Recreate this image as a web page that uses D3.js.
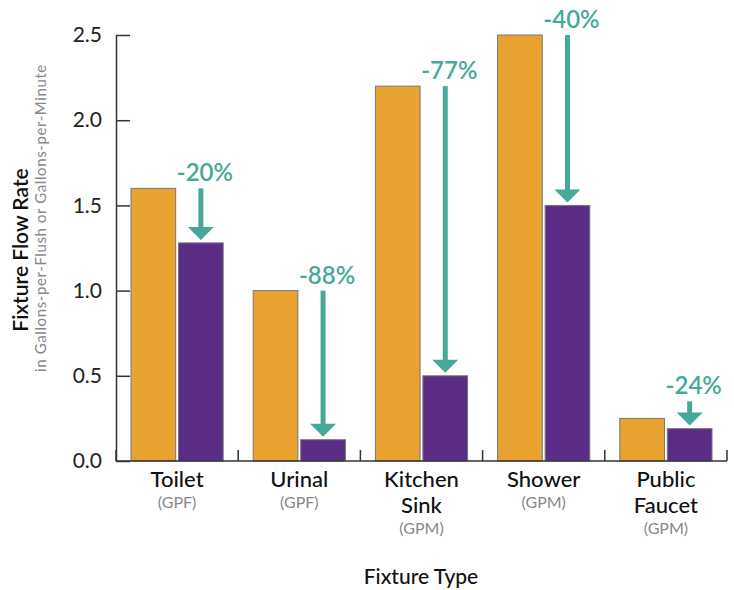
<!DOCTYPE html>
<html>
<head>
<meta charset="utf-8">
<script src="https://cdn.jsdelivr.net/npm/d3@7"></script>
<style>
  body { margin: 0; background: #fff; }
  text { font-family: Lato, "Noto Sans", sans-serif; }
</style>
</head>
<body>
<svg width="734" height="590"></svg>
<script>
// data
let categories = ["Toilet", "Urinal", "Kitchen Sink", "Shower", "Public Faucet"];
let labelLines = [["Toilet"], ["Urinal"], ["Kitchen", "Sink"], ["Shower"], ["Public", "Faucet"]];
let units = ["(GPF)", "(GPF)", "(GPM)", "(GPM)", "(GPM)"];
let oldRate = [1.6, 1.0, 2.2, 2.5, 0.25];
let newRate = [1.28, 0.125, 0.5, 1.5, 0.19];
let changes = ["-20%", "-88%", "-77%", "-40%", "-24%"];
let yTicks = [0, 0.5, 1.0, 1.5, 2.0, 2.5];

let orange = "#E8A230", purple = "#5B2C86", teal = "#45A898";

let svg = d3.select("svg");
let scale_x = d3.scaleBand().domain(categories).range([116, 727]);
let scale_inner = d3.scaleBand().domain(["old", "new"])
    .range([15, scale_x.bandwidth() - 15]).paddingInner(0.06);
let scale_y = d3.scaleLinear().domain([0, 2.5]).range([461, 35]);

// y axis
let y_axis = d3.axisLeft(scale_y).tickValues(yTicks).tickFormat(d3.format(".1f"))
    .tickSizeInner(-14).tickSizeOuter(0).tickPadding(14);
let gy = svg.append("g").attr("transform", "translate(116,0)").call(y_axis);
gy.selectAll("text").style("font-size", "21px").attr("fill", "#222");
gy.selectAll("line, path").attr("stroke", "#333").attr("stroke-width", 1.5);

// bars
let rows = categories.map((c, i) => ({ c: c, i: i, old: oldRate[i], nw: newRate[i] }));
let groups = svg.selectAll(".grp").data(rows).enter().append("g")
    .attr("transform", d => "translate(" + scale_x(d.c) + ",0)");

groups.append("rect")
    .attr("x", scale_inner("old"))
    .attr("width", scale_inner.bandwidth())
    .attr("y", d => scale_y(d.old))
    .attr("height", d => scale_y(0) - scale_y(d.old))
    .attr("fill", orange).attr("stroke", "#777").attr("stroke-width", 1);

groups.append("rect")
    .attr("x", scale_inner("new"))
    .attr("width", scale_inner.bandwidth())
    .attr("y", d => scale_y(d.nw))
    .attr("height", d => scale_y(0) - scale_y(d.nw))
    .attr("fill", purple).attr("stroke", "#777").attr("stroke-width", 1);

// x axis baseline and separators
let bounds = categories.map(c => scale_x(c)).concat([scale_x.range()[1]]);
svg.append("line").attr("x1", 116).attr("x2", scale_x.range()[1])
    .attr("y1", scale_y(0)).attr("y2", scale_y(0))
    .attr("stroke", "#333").attr("stroke-width", 1.5);
svg.selectAll(".sep").data(bounds).enter().append("line")
    .attr("x1", d => d).attr("x2", d => d)
    .attr("y1", scale_y(0)).attr("y2", scale_y(0) - 11)
    .attr("stroke", "#333").attr("stroke-width", 1.5);

// arrows
groups.each(function(d) {
    let g = d3.select(this);
    let cx = scale_inner("new") + scale_inner.bandwidth() / 2;
    let top = scale_y(Math.max(d.old, d.nw + 0.16));
    let tip = scale_y(d.nw) - 3;
    g.append("rect").attr("x", cx - 2.5).attr("width", 5)
        .attr("y", top).attr("height", tip - 12 - top).attr("fill", teal);
    g.append("path")
        .attr("d", "M" + (cx - 13) + "," + (tip - 13) + "L" + (cx + 13) + "," + (tip - 13) + "L" + cx + "," + tip + "Z")
        .attr("fill", teal);
    g.append("text").attr("x", cx + 4).attr("y", top - 7)
        .attr("text-anchor", "middle").attr("fill", teal)
        .style("font-size", "24px").style("font-weight", 600)
        .text(changes[d.i]);
});

// category labels
groups.each(function(d) {
    let g = d3.select(this);
    let cx = scale_x.bandwidth() / 2;
    let lines = labelLines[d.i];
    lines.forEach((t, k) => {
        g.append("text").attr("x", cx).attr("y", 487 + k * 26)
            .attr("text-anchor", "middle").attr("fill", "#111")
            .style("font-size", "22px").style("font-weight", 500)
            .text(t);
    });
    g.append("text").attr("x", cx).attr("y", 487 + (lines.length - 1) * 26 + 21)
        .attr("text-anchor", "middle").attr("fill", "#888")
        .style("font-size", "16px")
        .text(units[d.i]);
});

// axis titles
svg.append("text").attr("x", 421).attr("y", 584)
    .attr("text-anchor", "middle").attr("fill", "#111")
    .style("font-size", "21px").style("font-weight", 500)
    .text("Fixture Type");

svg.append("text").attr("transform", "translate(21,250) rotate(-90)")
    .attr("text-anchor", "middle").attr("dy", "0.35em").attr("fill", "#111")
    .style("font-size", "21px").style("font-weight", 600)
    .text("Fixture Flow Rate");
svg.append("text").attr("transform", "translate(41,218) rotate(-90)")
    .attr("text-anchor", "middle").attr("dy", "0.35em").attr("fill", "#888")
    .style("font-size", "15px").style("letter-spacing", "0.6px")
    .text("in Gallons-per-Flush or Gallons-per-Minute");
</script>
</body>
</html>
